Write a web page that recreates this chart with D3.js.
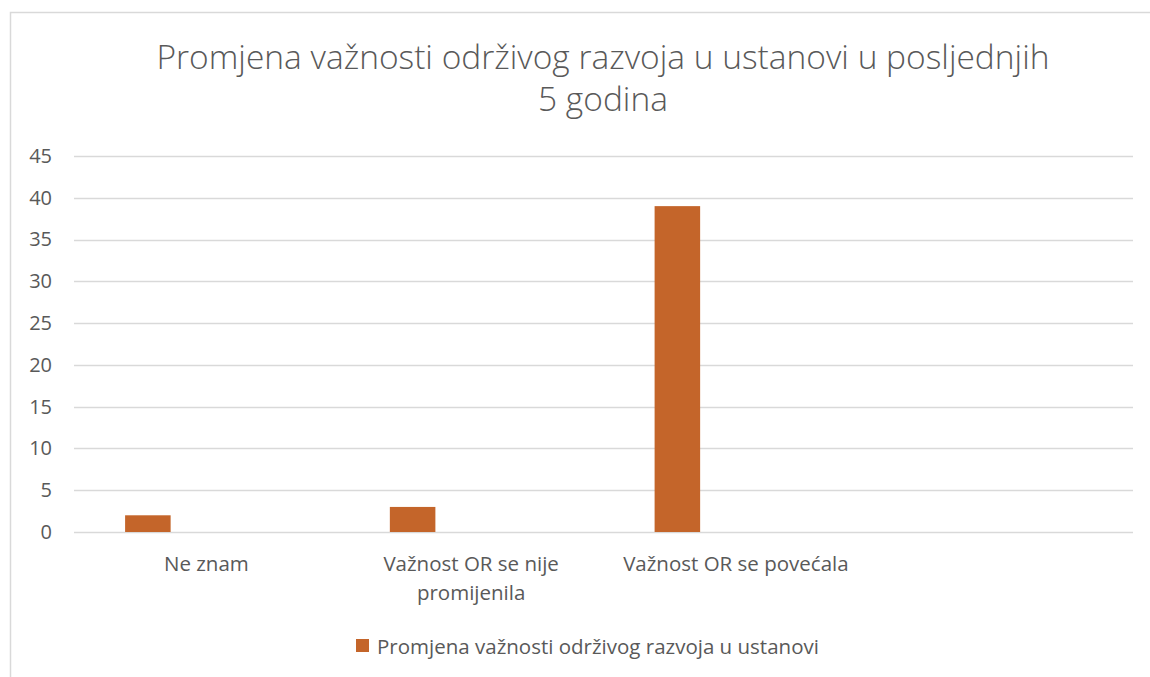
<!DOCTYPE html>
<html>
<head>
<meta charset="utf-8">
<script src="https://cdn.jsdelivr.net/npm/d3@7"></script>
<style>
  body { margin: 0; background: #fff; }
  text { font-family: "Open Sans", "Noto Sans", sans-serif; fill: #595959; }
</style>
</head>
<body>
<div id="chart"></div>
<script>
// chart data
var categories = ["Ne znam", "Važnost OR se nije promijenila", "Važnost OR se povećala", ""];
var values = [2, 3, 39, null];
var yTicks = [0, 5, 10, 15, 20, 25, 30, 35, 40, 45];
var seriesName = "Promjena važnosti održivog razvoja u ustanovi";
var titleLines = ["Promjena važnosti održivog razvoja u ustanovi u posljednjih", "5 godina"];

var W = 1150, H = 677;
var margin = {top: 156, right: 17, bottom: 145, left: 74},
    width = W - margin.left - margin.right,
    height = H - margin.top - margin.bottom;

var barColor = "#c4652a";

var svg = d3.select("#chart")
  .append("svg")
    .attr("width", W)
    .attr("height", H);

// chart area frame (left and top edges visible, the rest is cropped off)
svg.append("path")
  .attr("d", "M10.5," + H + "V12.5H" + W)
  .attr("fill", "none")
  .attr("stroke", "#d9d9d9")
  .attr("stroke-width", 1.5);

// title, centred on the (wider) chart area
var titleX = 603;
svg.append("g").selectAll("text")
  .data(titleLines)
  .enter().append("text")
    .attr("x", titleX)
    .attr("y", function(d, i) { return 69 + i * 42; })
    .attr("text-anchor", "middle")
    .style("font-size", "33.5px")
    .style("font-weight", 300)
    .text(function(d) { return d; });

var g = svg.append("g")
  .attr("transform", "translate(" + margin.left + "," + margin.top + ")");

var x = d3.scaleBand()
  .domain(categories.map(function(d, i) { return i; }))
  .range([0, width]);

var y = d3.scaleLinear()
  .domain([0, 45])
  .range([height, 0]);

// gridlines
g.append("g")
  .selectAll("line")
  .data(yTicks)
  .enter().append("line")
    .attr("x1", 0)
    .attr("x2", width)
    .attr("y1", function(d) { return Math.round(y(d)) + 0.5; })
    .attr("y2", function(d) { return Math.round(y(d)) + 0.5; })
    .attr("stroke", "#d9d9d9")
    .attr("stroke-width", 1.5);

// y axis labels
var yAxis = g.append("g")
  .call(d3.axisLeft(y).tickValues(yTicks).tickSize(0).tickPadding(22));
yAxis.select(".domain").remove();
yAxis.selectAll("text")
  .style("font-size", "20px")
  .attr("fill", "#595959")
  .style("font-family", "Open Sans, sans-serif");

// bars sit left of the category centre, like Excel's clustered columns
var barOffset = 0.193, barFrac = 0.172;
g.append("g")
  .selectAll("rect")
  .data(values.map(function(v, i) { return {i: i, v: v}; }).filter(function(d) { return d.v != null; }))
  .enter().append("rect")
    .attr("x", function(d) { return x(d.i) + x.bandwidth() * barOffset; })
    .attr("width", x.bandwidth() * barFrac)
    .attr("y", function(d) { return y(d.v); })
    .attr("height", function(d) { return height - y(d.v); })
    .attr("fill", barColor);

// category labels, wrapped
var wraps = {1: ["Važnost OR se nije", "promijenila"]};
var xl = g.append("g")
  .selectAll("text")
  .data(categories.map(function(c, i) { return {i: i, c: c}; }))
  .enter().append("text")
    .attr("x", function(d) { return x(d.i) + x.bandwidth() / 2; })
    .attr("y", height + 39)
    .attr("text-anchor", "middle")
    .style("font-size", "20.5px");
xl.each(function(d) {
  var lines = wraps[d.i] || [d.c];
  var t = d3.select(this);
  lines.forEach(function(l, k) {
    t.append("tspan")
      .attr("x", x(d.i) + x.bandwidth() / 2)
      .attr("dy", k == 0 ? 0 : 29)
      .text(l);
  });
});

// legend
var leg = svg.append("g").attr("transform", "translate(356,639)");
leg.append("rect")
  .attr("width", 13)
  .attr("height", 13)
  .attr("fill", barColor);
leg.append("text")
  .attr("x", 21)
  .attr("y", 15)
  .style("font-size", "20.5px")
  .text(seriesName);
</script>
</body>
</html>
